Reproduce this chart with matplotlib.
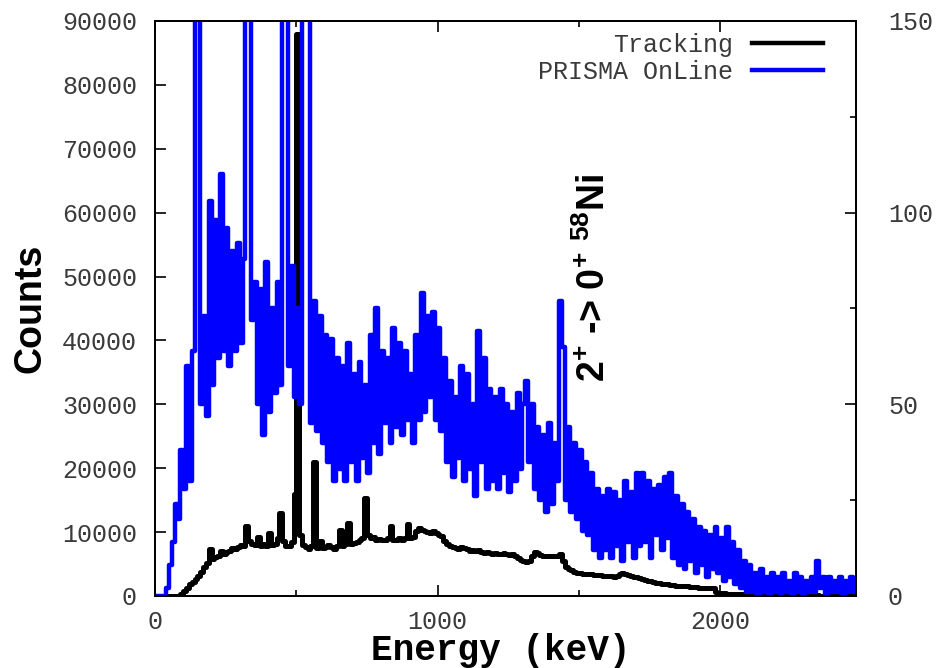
import numpy as np
import matplotlib
matplotlib.use("Agg")
import matplotlib.pyplot as plt
from matplotlib.lines import Line2D

# spectra, 10 keV bins starting at 0 keV
bin_width = 10

# Tracking (left axis, counts per bin)
tracking = [
    0, 0, 0, 0, 0, 0, 0, 0, 0, 300,
    800, 1300, 1800, 2200, 2600, 3100, 3800, 4500, 5200, 7300,
    5800, 6100, 6300, 7000, 6600, 6900, 7100, 7500, 7300, 7700,
    8000, 7900, 11000, 8600, 8200, 8000, 9200, 7900, 8100, 7900,
    9800, 8000, 8200, 9000, 13000, 8600, 7800, 7900, 8400, 16000,
    88000, 9500, 8000, 7600, 7400, 7800, 21000, 7500, 8600, 7500,
    7700, 8000, 7700, 7400, 7800, 10300, 7900, 8200, 11400, 8200,
    8300, 8500, 8700, 9000, 15300, 9600, 9000, 9300, 8800, 8900,
    8700, 8800, 9000, 11000, 8800, 8700, 9000, 8800, 9000, 11200,
    9000, 9300, 10200, 10600, 10400, 10200, 10000, 9900, 10100, 9800,
    9600, 9400, 8600, 8200, 7800, 7700, 7500, 7400, 7700, 7500,
    7300, 7100, 7200, 7000, 7200, 6900, 6800, 6900, 6700, 6600,
    6700, 6500, 6600, 6800, 6600, 6400, 6500, 6300, 6000, 5700,
    5400, 5300, 5500, 6300, 6900, 6800, 6400, 6300, 6200, 6200,
    6300, 6200, 6200, 6500, 5400, 4600, 4300, 4000, 3800, 3600,
    3600, 3500, 3500, 3400, 3400, 3300, 3300, 3300, 3200, 3200,
    3100, 3100, 3000, 3200, 3400, 3600, 3500, 3300, 3100, 3000,
    2900, 2800, 2600, 2500, 2400, 2300, 2200, 2100, 2000, 1900,
    1800, 1800, 1700, 1700, 1600, 1600, 1500, 1500, 1500, 1400,
    1400, 1400, 1300, 1300, 1300, 1300, 1200, 1200, 700, 500,
    450, 400, 380, 350, 330, 300, 280, 260, 250, 230,
    220, 200, 190, 180, 170, 160, 150, 150, 140, 140,
    130, 130, 120, 120, 110, 110, 100, 100, 100, 90,
    90, 90, 80, 80, 80, 70, 70, 70, 60, 60,
    60, 50, 50, 50, 40, 40, 40, 40,
]

# PRISMA OnLine (right axis, counts per bin)
prisma = [
    0, 0, 0, 0, 2, 8, 14, 24, 20, 38,
    28, 60, 30, 64, 190, 210, 50, 73, 47, 103,
    55, 98, 62, 110, 64, 96, 60, 90, 64, 92,
    66, 88, 170, 200, 72, 82, 50, 80, 42, 87,
    48, 75, 53, 82, 55, 160, 180, 60, 86, 52,
    75, 50, 190, 220, 180, 45, 77, 43, 73, 40,
    68, 35, 67, 30, 62, 33, 60, 30, 66, 35,
    58, 30, 61, 36, 55, 32, 68, 40, 75, 37,
    64, 45, 62, 40, 70, 44, 66, 42, 64, 46,
    58, 40, 68, 46, 79, 48, 73, 52, 74, 46,
    70, 43, 62, 35, 56, 31, 52, 36, 60, 30,
    58, 33, 50, 26, 69, 35, 62, 28, 54, 30,
    52, 28, 54, 32, 50, 27, 48, 30, 53, 33,
    50, 56, 35, 50, 28, 44, 25, 42, 22, 45,
    24, 40, 30, 77, 65, 25, 44, 22, 40, 20,
    38, 17, 35, 16, 32, 12, 28, 10, 26, 12,
    28, 10, 27, 13, 25, 9, 30, 14, 27, 10,
    32, 13, 32, 14, 30, 10, 28, 16, 29, 12,
    31, 15, 32, 10, 26, 8, 24, 7, 22, 9,
    20, 6, 18, 8, 17, 5, 16, 7, 18, 6,
    15, 4, 18, 5, 14, 3, 12, 2, 9, 1,
    8, 1, 6, 0, 7, 1, 5, 0, 6, 1,
    5, 0, 6, 1, 4, 0, 6, 1, 5, 0,
    4, 1, 5, 1, 9, 2, 5, 0, 5, 1,
    4, 1, 5, 0, 4, 1, 5, 1,
]

e_track = np.arange(len(tracking)) * bin_width + bin_width / 2
e_prisma = np.arange(len(prisma)) * bin_width + bin_width / 2

plt.rcParams['font.family'] = 'Liberation Mono'
plt.rcParams['mathtext.fontset'] = 'custom'
plt.rcParams['mathtext.bf'] = 'Liberation Sans:bold'
plt.rcParams['mathtext.rm'] = 'Liberation Sans:bold'
plt.rcParams['mathtext.default'] = 'bf'

tick_col = '#3a3a3a'

fig = plt.figure(figsize=(9.4, 6.68), dpi=100)
ax = fig.add_axes([0.1649, 0.1078, 0.7457, 0.8608])
ax2 = ax.twinx()

ax.plot(e_track, tracking, drawstyle='steps-mid', color='black', lw=3.6)
ax2.plot(e_prisma, prisma, drawstyle='steps-mid', color='#0000ff', lw=3.2)

ax.set_xlim(0, 2480)
ax.set_ylim(0, 90000)
ax2.set_ylim(0, 150)

ax.set_xticks([0, 1000, 2000])
ax.set_xticks([500, 1500], minor=True)
ax.set_yticks(np.arange(0, 90001, 10000))
ax2.set_yticks([0, 50, 100, 150])
ax2.set_yticks([25, 75, 125], minor=True)

ax.tick_params(axis='x', which='major', direction='in', length=8, width=1.2,
               top=True, pad=10, labelsize=18, labelcolor=tick_col)
ax.tick_params(axis='x', which='minor', direction='in', length=4, width=1.2, top=True)
ax.tick_params(axis='y', which='major', direction='in', length=8, width=1.2,
               right=False, pad=13, labelsize=18, labelcolor=tick_col)
ax2.tick_params(axis='y', which='major', direction='in', length=8, width=1.2,
                pad=23, labelsize=18, labelcolor=tick_col)
ax2.tick_params(axis='y', which='minor', direction='in', length=4, width=1.2)

for a in (ax, ax2):
    for s in a.spines.values():
        s.set_linewidth(1.3)

fig.text(0.032, 0.539, 'Counts', rotation=90, ha='center', va='center',
         family='Liberation Sans', fontweight='bold', fontsize=27)
fig.text(0.533, 0.012, 'Energy (keV)', ha='center', va='baseline',
         family='Liberation Mono', fontweight='bold', fontsize=26)

ax.text(1553, 49800, r'$2^{+}$ -> $0^{+}$ $^{58}$Ni', rotation=90,
        ha='center', va='center', family='Liberation Sans',
        fontweight='bold', fontsize=27)

handles = [Line2D([], [], color='black', lw=3.2),
           Line2D([], [], color='#0000ff', lw=3.2)]
leg = ax2.legend(handles, ['Tracking', 'PRISMA OnLine'], loc='upper right',
                 bbox_to_anchor=(0.953, 0.979), frameon=False, markerfirst=False,
                 fontsize=18, handlelength=2.85, handletextpad=0.75,
                 labelspacing=0.12, borderaxespad=0, borderpad=0)
for t in leg.get_texts():
    t.set_color(tick_col)

fig.savefig('out.png', dpi=100)
